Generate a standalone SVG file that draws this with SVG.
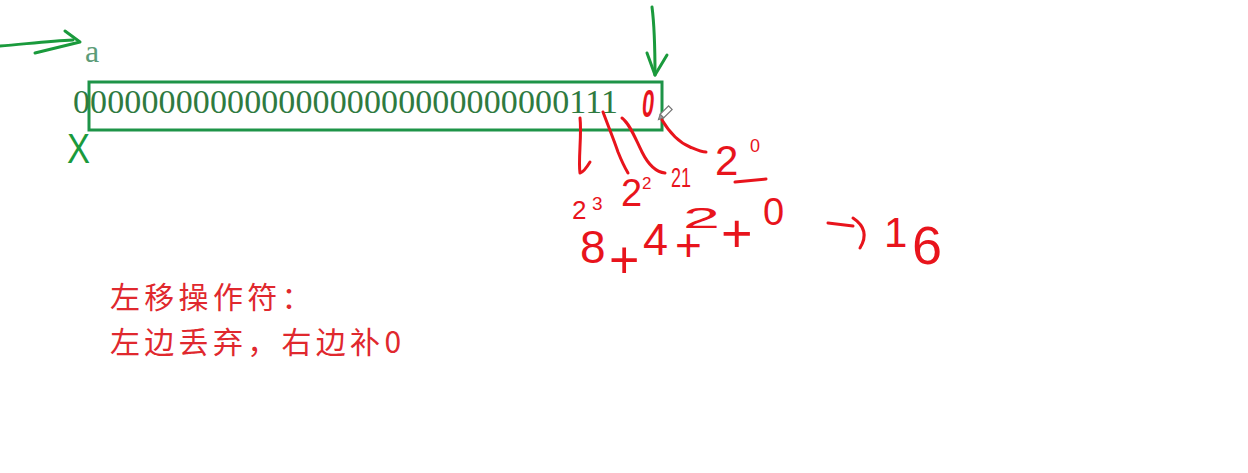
<svg xmlns="http://www.w3.org/2000/svg" width="1248" height="473" viewBox="0 0 1248 473">
<style>
.bits{font-family:"Liberation Serif","Times New Roman",serif;font-size:34px;fill:#2f7a3f}
.lbl{font-family:"Liberation Serif","Times New Roman",serif;font-size:32px;fill:#5c9c78}
.hg{font-family:"Liberation Sans",Arial,sans-serif;fill:#1a9a3c}
.hr{font-family:"Liberation Sans",Arial,sans-serif;fill:#e8141c}
.zh{font-family:"Noto Sans CJK SC","Noto Sans",sans-serif;font-size:30px;letter-spacing:4.3px;fill:#e0282e}
.gs{fill:none;stroke:#1a9a3c;stroke-width:3;stroke-linecap:round;stroke-linejoin:round}
.rs{fill:none;stroke:#e8141c;stroke-width:3;stroke-linecap:round;stroke-linejoin:round}
</style>
<rect width="1248" height="473" fill="#ffffff"/>

<g id="register">
<rect x="89" y="82" width="573" height="48" fill="none" stroke="#1e9448" stroke-width="3"/>
<text class="bits" x="73" y="113" textLength="545" lengthAdjust="spacing">00000000000000000000000000000111</text>
<text class="hr" x="642" y="117" font-size="38" font-style="italic" font-weight="bold" textLength="12" lengthAdjust="spacingAndGlyphs">0</text>
</g>

<g id="label-a">
<text class="lbl" x="85" y="62">a</text>
</g>

<g id="label-x">
<text class="hg" x="67" y="163" font-size="42" textLength="23" lengthAdjust="spacingAndGlyphs">X</text>
</g>

<g id="pencil" transform="translate(664,114) rotate(45)">
<rect x="-2.5" y="-9" width="5" height="12" fill="#ffffff" stroke="#777777" stroke-width="1.2"/>
<polygon points="-2.5,3 2.5,3 0,8" fill="#999999" stroke="#777777" stroke-width="1"/>
</g>

<g id="connectors">
<path class="gs" d="M0,46 C25,44 50,41 73,40"/>
<path class="gs" d="M65,31 L80,42 L35,53"/>
<path class="gs" d="M652,7 C655,30 655,55 655,75"/>
<path class="gs" d="M647,53 L655,75 L667,55"/>
<path class="rs" d="M580,118 C582,135 578,160 580,173 Q584,172 590,162"/>
<path class="rs" d="M603,112 C609,128 614,140 618,152 C622,162 625,168 628,173"/>
<path class="rs" d="M622,118 C630,124 635,138 642,152 C647,162 655,172 665,173"/>
<path class="rs" d="M662,120 C668,130 678,142 690,147 C697,150 701,152 706,152"/>
<path class="rs" d="M735,182 L766,179"/>
<path class="rs" d="M828,223 L853,226 M853,218 Q871,230 860,248"/>
</g>

<g id="power0">
<text class="hr"><tspan x="715" y="175" font-size="42">2</tspan><tspan x="750" y="152" font-size="18">0</tspan></text>
</g>
<g id="power1">
<text class="hr" x="671" y="187" font-size="27" textLength="20" lengthAdjust="spacingAndGlyphs">21</text>
</g>
<g id="power2">
<text class="hr"><tspan x="621" y="206" font-size="38">2</tspan><tspan x="642" y="189" font-size="17">2</tspan></text>
</g>
<g id="power3">
<text class="hr"><tspan x="572" y="219" font-size="26">2</tspan><tspan x="592" y="210" font-size="19">3</tspan></text>
</g>

<g id="sum">
<text class="hr"><tspan x="580" y="263" font-size="46">8</tspan><tspan x="609" y="278" font-size="52">+</tspan><tspan x="643" y="255" font-size="45">4</tspan><tspan x="675" y="261" font-size="46">+</tspan></text>
<text class="hr" x="683" y="228" font-size="30" textLength="37" lengthAdjust="spacingAndGlyphs">2</text>
<text class="hr"><tspan x="721" y="252" font-size="54">+</tspan><tspan x="763" y="225" font-size="38">0</tspan></text>
</g>

<g id="result">
<text class="hr"><tspan x="884" y="247" font-size="42">1</tspan><tspan x="912" y="264" font-size="54">6</tspan></text>
</g>

<g id="note">
<text class="zh" x="110" y="308">左移操作符：</text>
<text class="zh" x="110" y="353">左边丢弃，右边补0</text>
</g>
</svg>
